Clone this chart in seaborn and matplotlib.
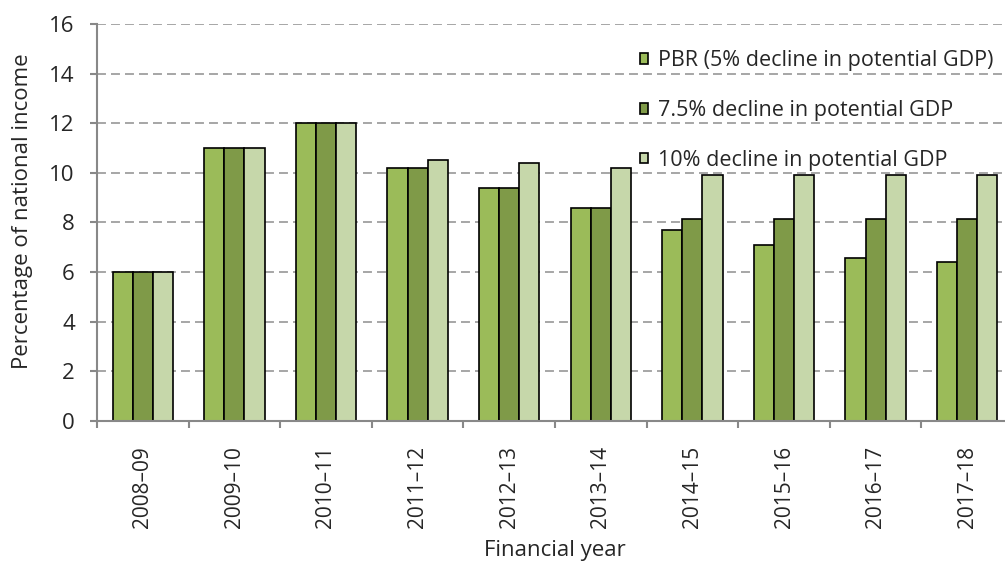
import pandas as pd
import numpy as np
import matplotlib
matplotlib.use("Agg")
import matplotlib.pyplot as plt
import seaborn as sns

years = ["2008–09", "2009–10", "2010–11", "2011–12", "2012–13",
         "2013–14", "2014–15", "2015–16", "2016–17", "2017–18"]
pbr_5 = [6.0, 11.0, 12.0, 10.2, 9.4, 8.6, 7.7, 7.1, 6.55, 6.4]
decline_7_5 = [6.0, 11.0, 12.0, 10.2, 9.4, 8.6, 8.15, 8.15, 8.15, 8.15]
decline_10 = [6.0, 11.0, 12.0, 10.5, 10.4, 10.2, 9.9, 9.9, 9.9, 9.9]
series_names = ["PBR (5% decline in potential GDP)",
                "7.5% decline in potential GDP",
                "10% decline in potential GDP"]
colors = ["#9BBB59", "#7F9A48", "#C6D7AA"]

df = pd.DataFrame({"year": years * 3,
                   "value": pbr_5 + decline_7_5 + decline_10,
                   "series": np.repeat(series_names, len(years))})

sns.set_style("white")
plt.rcParams['font.family'] = ['Open Sans', 'DejaVu Sans']

fig = plt.figure(figsize=(10.05, 5.61), dpi=100)
ax = fig.add_axes([0.0965, 0.2496, 0.9115, 0.7076])

sns.barplot(data=df, x="year", y="value", hue="series", palette=colors,
            width=0.66, edgecolor="black", linewidth=1.2, ax=ax, saturation=1)

ax.set_ylim(0, 16)
ax.set_xlim(-0.5, len(years) - 0.5)
ax.set_yticks(np.arange(0, 17, 2))
ax.yaxis.grid(True, linestyle=(0, (4.6, 2.6)), color="#A6A6A6", linewidth=1.4)
ax.set_axisbelow(True)

for s in ["top", "right"]:
    ax.spines[s].set_visible(False)
for s in ["left", "bottom"]:
    ax.spines[s].set_color("#888888")
    ax.spines[s].set_linewidth(1.5)

ax.tick_params(axis="y", which="major", length=5, width=1.5, color="#888888",
               labelsize=16, left=True, pad=11)
ax.tick_params(axis="x", which="major", length=0, labelsize=15, pad=18)
ax.set_xticks(np.arange(-0.5, len(years), 1), minor=True)
ax.tick_params(axis="x", which="minor", length=5, width=1.5, color="#888888", bottom=True)
plt.setp(ax.get_xticklabels(), rotation=90)

ax.set_ylabel("Percentage of national income", fontsize=16)
ax.yaxis.set_label_coords(-0.07, 0.529)
ax.set_xlabel("Financial year", fontsize=16)
ax.xaxis.set_label_coords(0.5, -0.30)

# legend sits inside the plot, top right, small square handles
leg = ax.legend(loc="upper left", bbox_to_anchor=(0.583, 0.955), frameon=False,
                fontsize=15.5, handlelength=0.4, handleheight=0.4,
                handletextpad=0.45, labelspacing=1.33, borderaxespad=0)

fig.savefig("out.png", dpi=100)
